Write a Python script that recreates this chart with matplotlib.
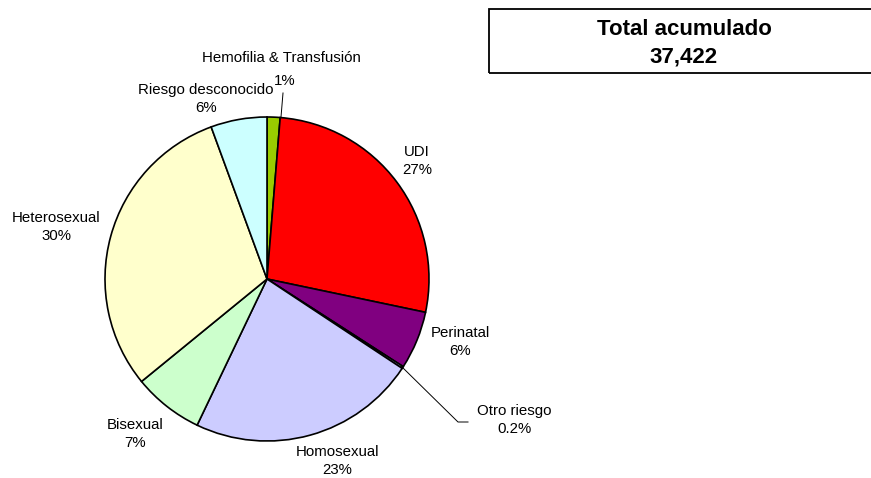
import matplotlib
matplotlib.use("Agg")
import matplotlib.pyplot as plt
from matplotlib.patches import Rectangle

# data (percent of cumulative total), clockwise from 12 o'clock
categories = ["Hemofilia & Transfusión", "UDI", "Perinatal", "Otro riesgo",
              "Homosexual", "Bisexual", "Heterosexual", "Riesgo desconocido"]
shares = [1.3, 27.0, 5.8, 0.2, 22.8, 7.0, 30.3, 5.6]
colors = ["#99CC00", "#FF0000", "#800080", "#CCCCFF",
          "#CCCCFF", "#CCFFCC", "#FFFFCC", "#CCFFFF"]
total_label = "Total acumulado"
total_value = 37422

W, H = 871, 478
plt.rcParams["font.family"] = ["Liberation Sans", "DejaVu Sans"]
FS = 10.8

# label anchor positions in pixel coords (x, y from top)
label_pos = {
    "Hemofilia & Transfusión": (281, 58),
    "UDI": (417, 161),
    "Perinatal": (460, 342),
    "Otro riesgo": (514, 420),
    "Homosexual": (337, 461),
    "Bisexual": (135, 434),
    "Heterosexual": (56, 227),
    "Riesgo desconocido": (206, 99),
}


def pct_text(v):
    return f"{v:.1f}%" if v < 1 else f"{v:.0f}%"


fig = plt.figure(figsize=(W / 100, H / 100), dpi=100)
ax = fig.add_axes([0, 0, 1, 1])

cx, cy, r = 267, H - 279, 162
ax.pie(shares, colors=colors, startangle=90, counterclock=False,
       center=(cx, cy), radius=r,
       wedgeprops=dict(edgecolor="black", linewidth=1.2))
ax.set_xlim(0, W)
ax.set_ylim(0, H)
ax.set_aspect("equal")
ax.axis("off")

for name, v in zip(categories, shares):
    x, y = label_pos[name]
    if name == "Hemofilia & Transfusión":
        ax.text(x, H - y, name, ha="center", va="center", fontsize=FS)
        ax.text(285, H - 81, pct_text(v), ha="center", va="center", fontsize=FS)
    else:
        ax.text(x, H - y, f"{name}\n{pct_text(v)}", ha="center", va="center",
                fontsize=FS, linespacing=1.4)

# leader lines
ax.plot([281, 283], [H - 117, H - 93], color="black", lw=0.7)
ax.plot([401, 458, 468], [H - 366, H - 422, H - 422], color="black", lw=0.7)

# total box
ax.add_patch(Rectangle((489, H - 73), 400, 64, fill=False,
                       edgecolor="black", lw=1.3, clip_on=True))
ax.text(684, H - 29, total_label, ha="center", va="center",
        fontsize=16, fontweight="bold")
ax.text(684, H - 57, f"{total_value:,}", ha="center", va="center",
        fontsize=16, fontweight="bold")

fig.savefig("out.png", dpi=100)
